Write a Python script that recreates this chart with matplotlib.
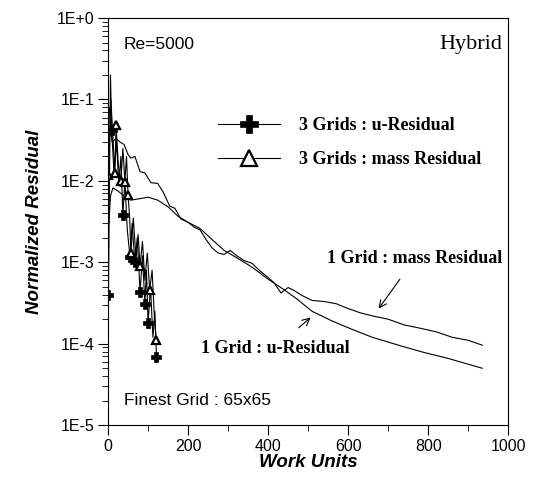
import matplotlib
matplotlib.use("Agg")
import matplotlib.pyplot as plt
from matplotlib.ticker import FixedLocator, LogLocator, NullFormatter
import numpy as np

# 1 grid, mass residual (wiggly)
wu_m1 = [3, 6, 10, 20, 30, 40, 50, 57, 67, 80, 92, 107, 124, 137, 154, 167, 182, 200,
         215, 230, 245, 260, 275, 290, 305, 322, 340, 360, 380, 400, 415, 432, 450, 465, 485,
         510, 540, 570, 600, 630, 660, 700, 740, 780, 820, 860, 900, 935]
res_m1 = [0.08, 0.05, 0.03, 0.033, 0.03, 0.028, 0.021, 0.019, 0.02, 0.013, 0.0125, 0.0095,
          0.0093, 0.0074, 0.0049, 0.0046, 0.0034, 0.0031, 0.0027, 0.0025, 0.0019,
          0.0015, 0.0013, 0.00125, 0.0014, 0.0012, 0.00105, 0.00097, 0.00078, 0.00065, 0.00056,
          0.00042, 0.00049, 0.00045, 0.00039, 0.00034, 0.00033, 0.00031, 0.00027, 0.00024,
          0.00022, 0.00020, 0.00017, 0.000155, 0.00014, 0.00012, 0.00011, 0.0000960]

# 1 grid, u residual (smooth)
wu_u1 = [2, 6, 12, 25, 40, 57, 75, 100, 124, 150, 174, 200, 230, 260, 290, 320, 360,
         400, 440, 470, 510, 560, 610, 660, 735, 790, 850, 900, 935]
res_u1 = [0.003, 0.0065, 0.0082, 0.0075, 0.0065, 0.0058, 0.006, 0.0063, 0.0058, 0.0048,
          0.0037, 0.0031, 0.0026, 0.0019, 0.0014, 0.00115, 0.00087, 0.00062,
          0.00046, 0.00036, 0.00025, 0.00019, 0.00015, 0.00012, 0.000093, 0.000078, 0.000066,
          0.000056, 0.000050]

# 3 grids, u residual
wu_u3 = [1, 6, 9, 15, 21, 27, 32, 37, 42, 48, 55, 60, 67, 73, 80, 86, 92, 96, 100, 106, 112,
         117, 121]
res_u3 = [0.0004, 0.2, 0.042, 0.012, 0.03, 0.009, 0.02, 0.0038, 0.01, 0.0025, 0.00115, 0.003,
          0.001, 0.002, 0.00043, 0.0012, 0.00031, 0.0008, 0.00018, 0.0005, 0.00012, 0.00025,
          0.000068]
mark_u3 = [0, 2, 7, 10, 12, 14, 16, 18, 22]

# 3 grids, mass residual
wu_m3 = [1, 7, 17, 20, 26, 32, 37, 42, 46, 50, 54, 57, 63, 70, 75, 80, 86, 92, 98, 104, 110,
         115, 120]
res_m3 = [0.0118, 0.1, 0.0125, 0.048, 0.015, 0.01, 0.025, 0.0098, 0.02, 0.0067, 0.0035, 0.0013,
          0.0035, 0.0011, 0.0022, 0.0009, 0.0018, 0.0006, 0.0013, 0.00046, 0.0008, 0.00025,
          0.00011]
mark_m3 = [0, 2, 3, 5, 7, 9, 11, 15, 19, 22]

serif = dict(fontfamily="Liberation Serif", fontweight="bold", fontsize=13)

fig = plt.figure(figsize=(5.35, 4.87), dpi=100)
ax = fig.add_axes([0.202, 0.127, 0.748, 0.836])

ax.plot(wu_m1, res_m1, color="black", lw=0.8)
ax.plot(wu_u1, res_u1, color="black", lw=0.8)
ax.plot(wu_u3, res_u3, color="black", lw=0.8, marker="P", ms=7, markevery=mark_u3,
        mfc="black", mec="black", mew=0.5)
ax.plot(wu_m3, res_m3, color="black", lw=0.8, marker="^", ms=6, markevery=mark_m3,
        mfc="white", mec="black", mew=1.6)

ax.set_yscale("log")
ax.set_xlim(0, 1000)
ax.set_ylim(1e-5, 1)
ax.xaxis.set_major_locator(FixedLocator([0, 200, 400, 600, 800, 1000]))
ax.xaxis.set_minor_locator(FixedLocator([100, 300, 500, 700, 900]))
ax.yaxis.set_minor_locator(LogLocator(base=10, subs=np.arange(2, 10), numticks=10))
ax.yaxis.set_minor_formatter(NullFormatter())
ax.set_yticks([1e-5, 1e-4, 1e-3, 1e-2, 1e-1, 1])
ax.set_yticklabels(["1E-5", "1E-4", "1E-3", "1E-2", "1E-1", "1E+0"])
ax.tick_params(which="major", direction="out", length=7, width=0.8, labelsize=11.5, pad=3)
ax.tick_params(which="minor", direction="out", length=4, width=0.6)
for t in ax.get_xticklabels() + ax.get_yticklabels():
    t.set_fontfamily("Liberation Sans")

ax.set_xlabel("Work Units", fontfamily="Liberation Sans", fontweight="bold", style="italic",
              fontsize=13.5, labelpad=0)
ax.set_ylabel("Normalized Residual", fontfamily="Liberation Sans", fontweight="bold",
              style="italic", fontsize=13.5, labelpad=10)

ax.text(0.04, 0.925, "Re=5000", transform=ax.transAxes, fontfamily="Liberation Sans",
        fontsize=12.5)
ax.text(0.985, 0.925, "Hybrid", transform=ax.transAxes, ha="right",
        fontfamily="Liberation Serif", fontsize=16)
ax.text(0.04, 0.05, "Finest Grid : 65x65", transform=ax.transAxes,
        fontfamily="Liberation Sans", fontsize=12.5)

# one marker in the middle of each legend line
leg = ax.legend(
    [ax.lines[2], ax.lines[3]],
    ["3 Grids : u-Residual", "3 Grids : mass Residual"],
    loc="center left", bbox_to_anchor=(0.275, 0.694), frameon=False, borderpad=0,
    borderaxespad=0, numpoints=1, markerscale=1.9,
    prop={"family": "Liberation Serif", "weight": "bold", "size": 13},
    handlelength=3.4, handletextpad=1.1, labelspacing=0.95,
)

ax.annotate("1 Grid : mass Residual", xy=(676, 0.00027), xytext=(985, 0.0011),
            ha="right", va="center", **serif,
            arrowprops=dict(arrowstyle="->", color="black", lw=0.8, shrinkA=8, shrinkB=0))
ax.annotate("1 Grid : u-Residual", xy=(506, 0.00021), xytext=(232, 0.000088),
            ha="left", va="center", **serif,
            arrowprops=dict(arrowstyle="->", color="black", lw=0.8, shrinkA=10, shrinkB=0))

fig.savefig("out.png", dpi=100)
